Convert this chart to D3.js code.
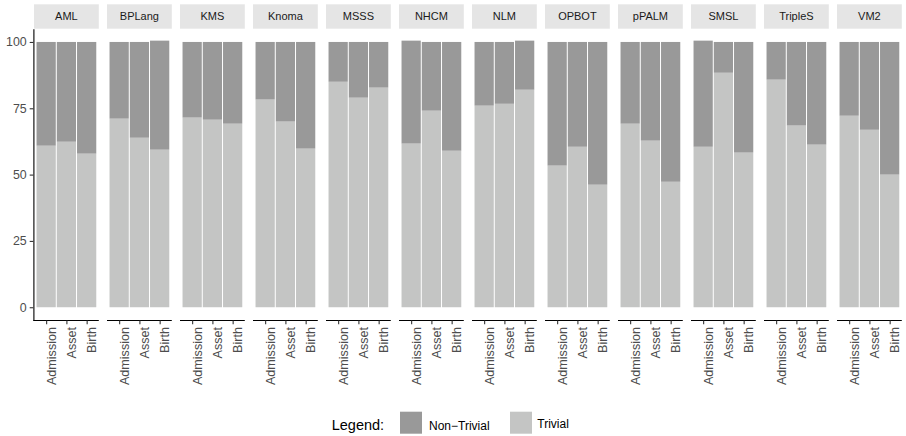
<!DOCTYPE html>
<html>
<head>
<meta charset="utf-8">
<script src="https://cdn.jsdelivr.net/npm/d3@7"></script>
<style>
  body { margin: 0; background: #fff; }
  svg text { font-family: "Liberation Sans", Arial, Helvetica, sans-serif; }
</style>
</head>
<body>
<div id="chart"></div>
<script>
// data
var systems = ["AML", "BPLang", "KMS", "Knoma", "MSSS", "NHCM", "NLM", "OPBOT", "pPALM", "SMSL", "TripleS", "VM2"];
var processes = ["Admission", "Asset", "Birth"];
// trivial share per system, in process order
var trivial = [
    [60.9, 62.4, 57.9],
    [71.1, 63.9, 59.4],
    [71.5, 70.7, 69.2],
    [78.3, 70.0, 59.8],
    [85.0, 79.0, 82.8],
    [61.7, 74.1, 59.0],
    [76.0, 76.7, 82.0],
    [53.4, 60.5, 46.2],
    [69.2, 62.8, 47.3],
    [60.5, 88.4, 58.3],
    [85.8, 68.5, 61.3],
    [72.2, 66.9, 50.0]
];
// non-trivial share per system (a few totals round to 100.5)
var nonTrivial = [
    [39.1, 37.6, 42.1],
    [28.9, 36.1, 41.1],
    [28.5, 29.3, 30.8],
    [21.7, 30.0, 40.2],
    [15.0, 21.0, 17.2],
    [38.8, 25.9, 41.0],
    [24.0, 23.3, 18.5],
    [46.6, 39.5, 53.8],
    [30.8, 37.2, 52.7],
    [40.0, 11.6, 41.7],
    [14.2, 31.5, 38.7],
    [27.8, 33.1, 50.0]
];
var yTicks = [0, 25, 50, 75, 100];
var legendLabels = ["Non\u2212Trivial", "Trivial"];

var width = 906, height = 436;
var panelLeft = 34, panelStep = 73, panelWidth = 64.8;
var stripTop = 4.3, stripBottom = 28.7;
var colNon = "#999999", colTriv = "#c4c5c4";

var svg = d3.select("#chart").append("svg")
    .attr("width", width)
    .attr("height", height);

var y = d3.scaleLinear()
    .domain([-5, 105])
    .range([320.5, 28.7]);

var x = d3.scalePoint()
    .domain(processes)
    .range([0, panelWidth])
    .padding(0.6);
var barW = x.step() * 0.95;

// stacked rows per system
var rows = [];
systems.forEach(function(s, i) {
    processes.forEach(function(p, j) {
        rows.push({system: s, idx: i, process: p, trivial: trivial[i][j], non: nonTrivial[i][j]});
    });
});

var panels = svg.selectAll(".panel")
    .data(systems)
    .enter().append("g")
    .attr("class", "panel")
    .attr("transform", function(d, i) {
        return "translate(" + (panelLeft + i * panelStep) + ",0)";
    });

// strips
panels.append("rect")
    .attr("x", 0)
    .attr("y", stripTop)
    .attr("width", panelWidth)
    .attr("height", stripBottom - stripTop)
    .attr("fill", "#e5e5e5");

panels.append("text")
    .attr("x", panelWidth / 2)
    .attr("y", (stripTop + stripBottom) / 2)
    .attr("dy", "0.36em")
    .attr("text-anchor", "middle")
    .style("font-size", "11px")
    .style("fill", "#1a1a1a")
    .text(function(d) { return d; });

// bars: trivial at the bottom, non-trivial stacked above
panels.each(function(s, i) {
    var g = d3.select(this);
    var data = rows.filter(function(r) { return r.idx === i; });

    g.selectAll(".triv")
        .data(data)
        .enter().append("rect")
        .attr("class", "triv")
        .attr("x", function(d) { return x(d.process) - barW / 2; })
        .attr("width", barW)
        .attr("y", function(d) { return y(d.trivial); })
        .attr("height", function(d) { return y(0) - y(d.trivial); })
        .attr("fill", colTriv);

    g.selectAll(".non")
        .data(data)
        .enter().append("rect")
        .attr("class", "non")
        .attr("x", function(d) { return x(d.process) - barW / 2; })
        .attr("width", barW)
        .attr("y", function(d) { return y(d.trivial + d.non); })
        .attr("height", function(d) { return y(d.trivial) - y(d.trivial + d.non); })
        .attr("fill", colNon);

    // x axis for each panel
    var ax = g.append("g")
        .attr("transform", "translate(0," + y.range()[0] + ")")
        .call(d3.axisBottom(x).tickSize(3.7).tickSizeOuter(0).tickPadding(0));
    ax.select(".domain").attr("stroke", "#000").attr("stroke-width", 1.1).attr("d", "M" + (i === 0 ? -0.6 : 0) + ",0H" + panelWidth);
    ax.selectAll(".tick line").attr("stroke", "#333").attr("stroke-width", 1.1);
    ax.selectAll(".tick text")
        .attr("transform", "rotate(-90)")
        .attr("x", -6.5)
        .attr("y", 0)
        .attr("dy", "0.72em")
        .attr("text-anchor", "end")
        .style("font-size", "12.6px")
        .style("font-family", "'Liberation Sans', Arial, sans-serif")
        .style("fill", "#4d4d4d");
});

// y axis on the first panel only
var yAx = svg.append("g")
    .attr("transform", "translate(" + (panelLeft - 0.6) + ",0)")
    .call(d3.axisLeft(y).tickValues(yTicks).tickSize(3.7).tickSizeOuter(0).tickPadding(3));
yAx.select(".domain").attr("stroke", "#000").attr("stroke-width", 1.1);
yAx.selectAll(".tick line").attr("stroke", "#333").attr("stroke-width", 1.1);
yAx.selectAll(".tick text")
    .style("font-size", "12.4px")
    .style("font-family", "'Liberation Sans', Arial, sans-serif")
    .style("fill", "#4d4d4d");

// legend
var legend = svg.append("g").attr("class", "legend");
legend.append("text")
    .attr("x", 331.7)
    .attr("y", 430)
    .style("font-size", "14.5px")
    .style("fill", "#000")
    .text("Legend:");

var legendX = [400, 510];
var legendCol = [colNon, colTriv];
var items = legend.selectAll(".item")
    .data(legendLabels)
    .enter().append("g")
    .attr("class", "item")
    .attr("transform", function(d, i) { return "translate(" + legendX[i] + ",0)"; });
items.append("rect")
    .attr("x", 0)
    .attr("y", 411.7)
    .attr("width", 22)
    .attr("height", 22)
    .attr("fill", function(d, i) { return legendCol[i]; });
items.append("text")
    .attr("x", function(d, i) { return i === 0 ? 29 : 27.3; })
    .attr("y", function(d, i) { return i === 0 ? 429.5 : 427.5; })
    .style("font-size", "12px")
    .style("fill", "#000")
    .text(function(d) { return d; });
</script>
</body>
</html>
